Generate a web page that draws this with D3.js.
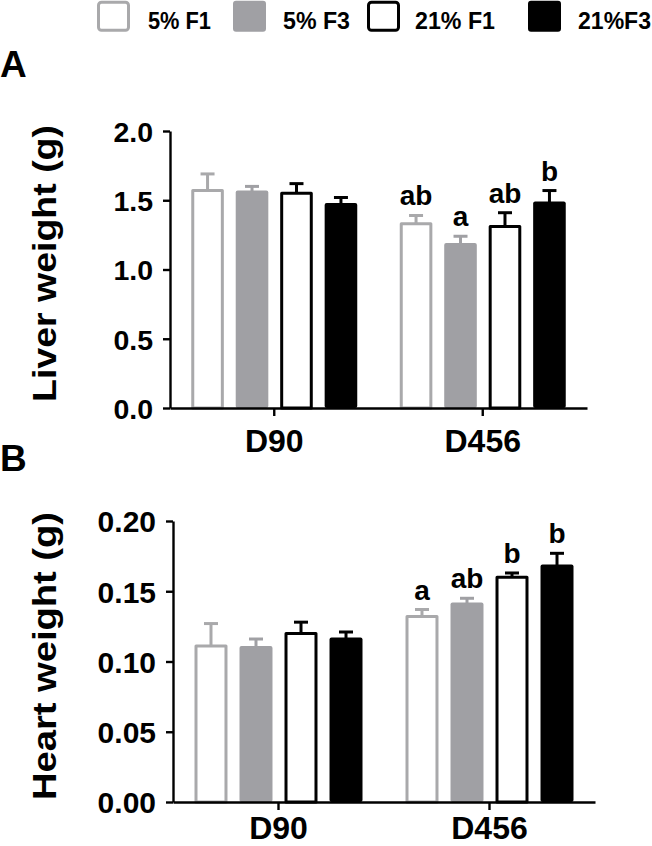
<!DOCTYPE html>
<html><head><meta charset="utf-8">
<script src="https://cdn.jsdelivr.net/npm/d3@7"></script>
<style>
body{margin:0;background:#fff}
svg{display:block}
text{font-family:"Liberation Sans",Arial,sans-serif;font-weight:bold;fill:#000}
</style>
</head><body><svg id="c" width="652" height="846"></svg>
<script>
// ---- data ----
const groups = ["D90", "D456"];
const seriesNames = ["5% F1", "5% F3", "21% F1", "21%F3"];

const liverMeanD90 = [1.57, 1.56, 1.55, 1.47];
const liverSemD90 = [0.12, 0.04, 0.07, 0.05];
const liverMeanD456 = [1.33, 1.18, 1.31, 1.48];
const liverSemD456 = [0.06, 0.06, 0.10, 0.09];
const liverLettersD456 = ["ab", "a", "ab", "b"];

const heartMeanD90 = [0.111, 0.110, 0.120, 0.116];
const heartSemD90 = [0.016, 0.006, 0.008, 0.005];
const heartMeanD456 = [0.132, 0.141, 0.160, 0.168];
const heartSemD456 = [0.005, 0.004, 0.003, 0.009];
const heartLettersD456 = ["a", "ab", "b", "b"];

const liverTicks = [0, 0.5, 1.0, 1.5, 2.0];
const heartTicks = [0, 0.05, 0.10, 0.15, 0.20];

// ---- styles ----
const LG = "#a9a9ab", FG = "#a0a0a4";
const seriesFill = ["#fff", FG, "#fff", "#000"];
const seriesStroke = [LG, null, "#000", null];
const seriesErr = [LG, FG, "#000", "#000"];

const svg = d3.select("#c");

// ---- legend ----
const legSwatchX = [97, 233, 367, 528];
const legTextX = [148, 283, 415, 578];
const legTextLen = [63, 67, 80, 73];
const leg = svg.append("g");
seriesNames.forEach((s, i) => {
  if (seriesStroke[i]) {
    leg.append("rect").attr("x", legSwatchX[i] + 1.5).attr("y", 2.2)
      .attr("width", 30).attr("height", 28).attr("rx", 3)
      .attr("fill", "#fff").attr("stroke", seriesStroke[i]).attr("stroke-width", 3);
  } else {
    leg.append("rect").attr("x", legSwatchX[i]).attr("y", 0.7)
      .attr("width", 33).attr("height", 31).attr("rx", 3)
      .attr("fill", seriesFill[i]);
  }
  leg.append("text").attr("x", legTextX[i]).attr("y", 29.3)
    .style("font-size", "23px")
    .attr("textLength", legTextLen[i]).attr("lengthAdjust", "spacingAndGlyphs")
    .text(s);
});

function drawPanel(cfg) {
  const g = svg.append("g");
  const x = d3.scaleBand().domain(groups).range([cfg.x0, cfg.x1]).padding(0);
  const xi = d3.scaleBand().domain(seriesNames).range([-cfg.half, cfg.half]).paddingInner(0.267).paddingOuter(0);
  const y = d3.scaleLinear().domain([0, cfg.max]).range([cfg.yBottom, cfg.yTop]);
  const bw = xi.bandwidth();

  const rows = [];
  groups.forEach((grp, gi) => {
    seriesNames.forEach((s, si) => {
      rows.push({grp, s, si, v: cfg.means[gi][si], e: cfg.sems[gi][si],
        letter: cfg.letters[gi] ? cfg.letters[gi][si] : null});
    });
  });
  const cx = d => x(d.grp) + x.bandwidth() / 2 + xi(d.s) + bw / 2;

  // bars
  rows.forEach(d => {
    const left = x(d.grp) + x.bandwidth() / 2 + xi(d.s);
    if (seriesStroke[d.si]) {
      g.append("rect").attr("x", left + 1.5).attr("y", y(d.v))
        .attr("width", bw - 3).attr("height", y(0) - y(d.v))
        .attr("fill", "#fff").attr("stroke", seriesStroke[d.si]).attr("stroke-width", 3)
        .attr("stroke-linejoin", "round");
    } else {
      g.append("rect").attr("x", left).attr("y", y(d.v) - 1.5)
        .attr("width", bw).attr("height", y(0) - y(d.v) + 1.5).attr("rx", 2)
        .attr("fill", seriesFill[d.si]);
    }
  });
  // error bars
  rows.forEach(d => {
    const c = cx(d);
    g.append("line").attr("x1", c).attr("x2", c).attr("y1", y(d.v)).attr("y2", y(d.v + d.e))
      .attr("stroke", seriesErr[d.si]).attr("stroke-width", 3);
    g.append("line").attr("x1", c - 7).attr("x2", c + 7).attr("y1", y(d.v + d.e)).attr("y2", y(d.v + d.e))
      .attr("stroke", seriesErr[d.si]).attr("stroke-width", 3);
    if (d.letter) {
      g.append("text").attr("x", c).attr("y", y(d.v + d.e) - 10)
        .attr("text-anchor", "middle").style("font-size", "28px").text(d.letter);
    }
  });

  // axes
  const ya = g.append("g").attr("transform", `translate(${cfg.x0},0)`)
    .call(d3.axisLeft(y).tickValues(cfg.ticks).tickFormat(d3.format(cfg.fmt))
      .tickSize(7).tickSizeOuter(0).tickPadding(10));
  ya.selectAll("path,line").attr("stroke", "#000").attr("stroke-width", 2.4);
  ya.selectAll("text").style("font-size", cfg.tickFont).attr("dy", "0.36em")
    .style("font-family", '"Liberation Sans",Arial,sans-serif').style("font-weight", "bold");

  const xa = g.append("g").attr("transform", `translate(0,${cfg.yBottom})`)
    .call(d3.axisBottom(x).tickSize(8).tickSizeOuter(0).tickPadding(cfg.xPad));
  xa.selectAll("path,line").attr("stroke", "#000").attr("stroke-width", 2.4);
  xa.selectAll("text").style("font-size", "32px")
    .style("font-family", '"Liberation Sans",Arial,sans-serif').style("font-weight", "bold");

  // axis title
  g.append("text").attr("transform", `translate(${cfg.titleX},${cfg.titleY}) rotate(-90)`)
    .attr("text-anchor", "middle").style("font-size", "33px")
    .attr("textLength", cfg.titleLen).attr("lengthAdjust", "spacingAndGlyphs")
    .text(cfg.title);

  // panel label
  g.append("text").attr("x", 0).attr("y", cfg.labelY).style("font-size", "37px").text(cfg.label);
}

drawPanel({
  x0: 170, x1: 587, yTop: 131, yBottom: 408, max: 2.0, half: 83,
  ticks: liverTicks, fmt: ".1f", tickFont: "28.5px",
  means: [liverMeanD90, liverMeanD456], sems: [liverSemD90, liverSemD456],
  letters: [null, liverLettersD456],
  xPad: 13, title: "Liver weight (g)", titleX: 55.5, titleY: 263.5, titleLen: 277,
  label: "A", labelY: 76.5
});
drawPanel({
  x0: 173, x1: 595, yTop: 521, yBottom: 802, max: 0.20, half: 84,
  ticks: heartTicks, fmt: ".2f", tickFont: "30px",
  means: [heartMeanD90, heartMeanD456], sems: [heartSemD90, heartSemD456],
  letters: [null, heartLettersD456],
  xPad: 6, title: "Heart weight (g)", titleX: 55.5, titleY: 656, titleLen: 288,
  label: "B", labelY: 471
});
</script>
</body></html>
